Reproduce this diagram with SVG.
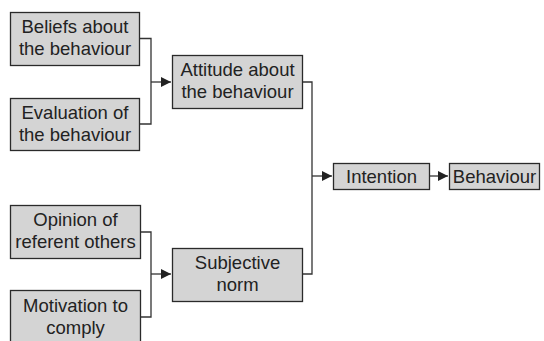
<svg xmlns="http://www.w3.org/2000/svg" width="544" height="341" viewBox="0 0 544 341">
<style>
.box{fill:#d4d4d4;stroke:#2a2a2a;stroke-width:1.3}
.t{font-family:"Liberation Sans",Arial,sans-serif;font-size:18.5px;fill:#222;text-anchor:middle}
.c{fill:none;stroke:#333;stroke-width:1.3}
</style>
<defs>
<marker id="ah" viewBox="0 0 10 10" refX="10" refY="5" markerWidth="10" markerHeight="10" markerUnits="userSpaceOnUse" orient="auto">
<path d="M0,0 L10,5 L0,10 z" fill="#222"/>
</marker>
</defs>
<rect width="544" height="341" fill="#fff"/>
<g id="connectors">
<path class="c" d="M139,38.5 H151 V124 H139"/>
<path class="c" d="M151,82 H171" marker-end="url(#ah)"/>
<path class="c" d="M140,232 H151 V317 H140"/>
<path class="c" d="M151,274 H171" marker-end="url(#ah)"/>
<path class="c" d="M302,82 H312 V274 H302"/>
<path class="c" d="M312,176 H332" marker-end="url(#ah)"/>
<path class="c" d="M429,176 H448" marker-end="url(#ah)"/>
</g>
<g id="beliefs">
<rect class="box" x="10.5" y="12.5" width="129" height="53"/>
<text class="t" x="75" y="33">Beliefs about</text>
<text class="t" x="75" y="55">the behaviour</text>
</g>
<g id="evaluation">
<rect class="box" x="10.5" y="98.5" width="129" height="52"/>
<text class="t" x="75" y="118.5">Evaluation of</text>
<text class="t" x="75" y="140.5">the behaviour</text>
</g>
<g id="attitude">
<rect class="box" x="172.5" y="55.5" width="130" height="53"/>
<text class="t" x="237.5" y="76">Attitude about</text>
<text class="t" x="237.5" y="98">the behaviour</text>
</g>
<g id="opinion">
<rect class="box" x="10.5" y="205.5" width="130" height="53"/>
<text class="t" x="75.5" y="226">Opinion of</text>
<text class="t" x="75.5" y="248">referent others</text>
</g>
<g id="motivation">
<rect class="box" x="10.5" y="290.5" width="130" height="52"/>
<text class="t" x="75.5" y="311.5">Motivation to</text>
<text class="t" x="75.5" y="333.5">comply</text>
</g>
<g id="subjective">
<rect class="box" x="172.5" y="248.5" width="130" height="53"/>
<text class="t" x="237.5" y="269">Subjective</text>
<text class="t" x="237.5" y="291">norm</text>
</g>
<g id="intention">
<rect class="box" x="333.5" y="163.5" width="96" height="26"/>
<text class="t" x="381.5" y="182.5">Intention</text>
</g>
<g id="behaviour">
<rect class="box" x="449.5" y="163.5" width="90" height="26"/>
<text class="t" x="494.5" y="182.5">Behaviour</text>
</g>
</svg>
